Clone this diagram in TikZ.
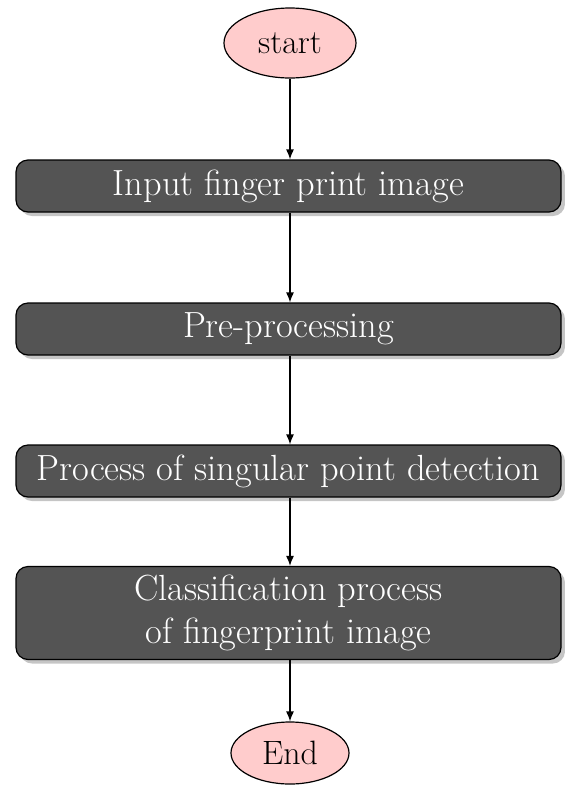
\documentclass[tikz,border=0pt]{standalone}
\usetikzlibrary{shapes.geometric,shadows,arrows.meta}
\begin{document}
\begin{tikzpicture}[x=0.5pt,y=-0.5pt,
  term/.style={ellipse,draw=black,line width=0.6pt,fill=red!20,inner sep=0pt,font=\fontsize{16.9}{19}\selectfont},
  procbox/.style={rectangle,rounded corners=6pt,draw=black,line width=0.6pt,fill=black!67,text=white,
    minimum width=272.5pt,inner sep=0pt,align=center,font=\fontsize{18.2}{21.5}\selectfont,
    drop shadow={shadow xshift=2pt,shadow yshift=-2pt,fill=black!45}},
  conn/.style={-{Latex[length=5pt,width=4pt]},line width=0.6pt}]
\useasboundingbox (0,0) rectangle (565,789);
\node[term,minimum width=66pt,minimum height=35pt] (start) at (290,43) {start};
\node[procbox,minimum height=26pt] (b1) at (288.5,186) {Input finger print image};
\node[procbox,minimum height=26pt] (b2) at (288.5,329) {Pre-processing};
\node[procbox,minimum height=26pt] (b3) at (288.5,471) {Process of singular point detection};
\node[procbox,minimum height=46.5pt] (b4) at (288.5,613) {Classification process\\of fingerprint image};
\node[term,minimum width=59pt,minimum height=31pt] (end) at (290,753) {End};
\draw[conn] (start) -- (start|-b1.north);
\draw[conn] (b1.south-|start) -- (start|-b2.north);
\draw[conn] (b2.south-|start) -- (start|-b3.north);
\draw[conn] (b3.south-|start) -- (start|-b4.north);
\draw[conn] (b4.south-|start) -- (end);
\end{tikzpicture}
\end{document}
